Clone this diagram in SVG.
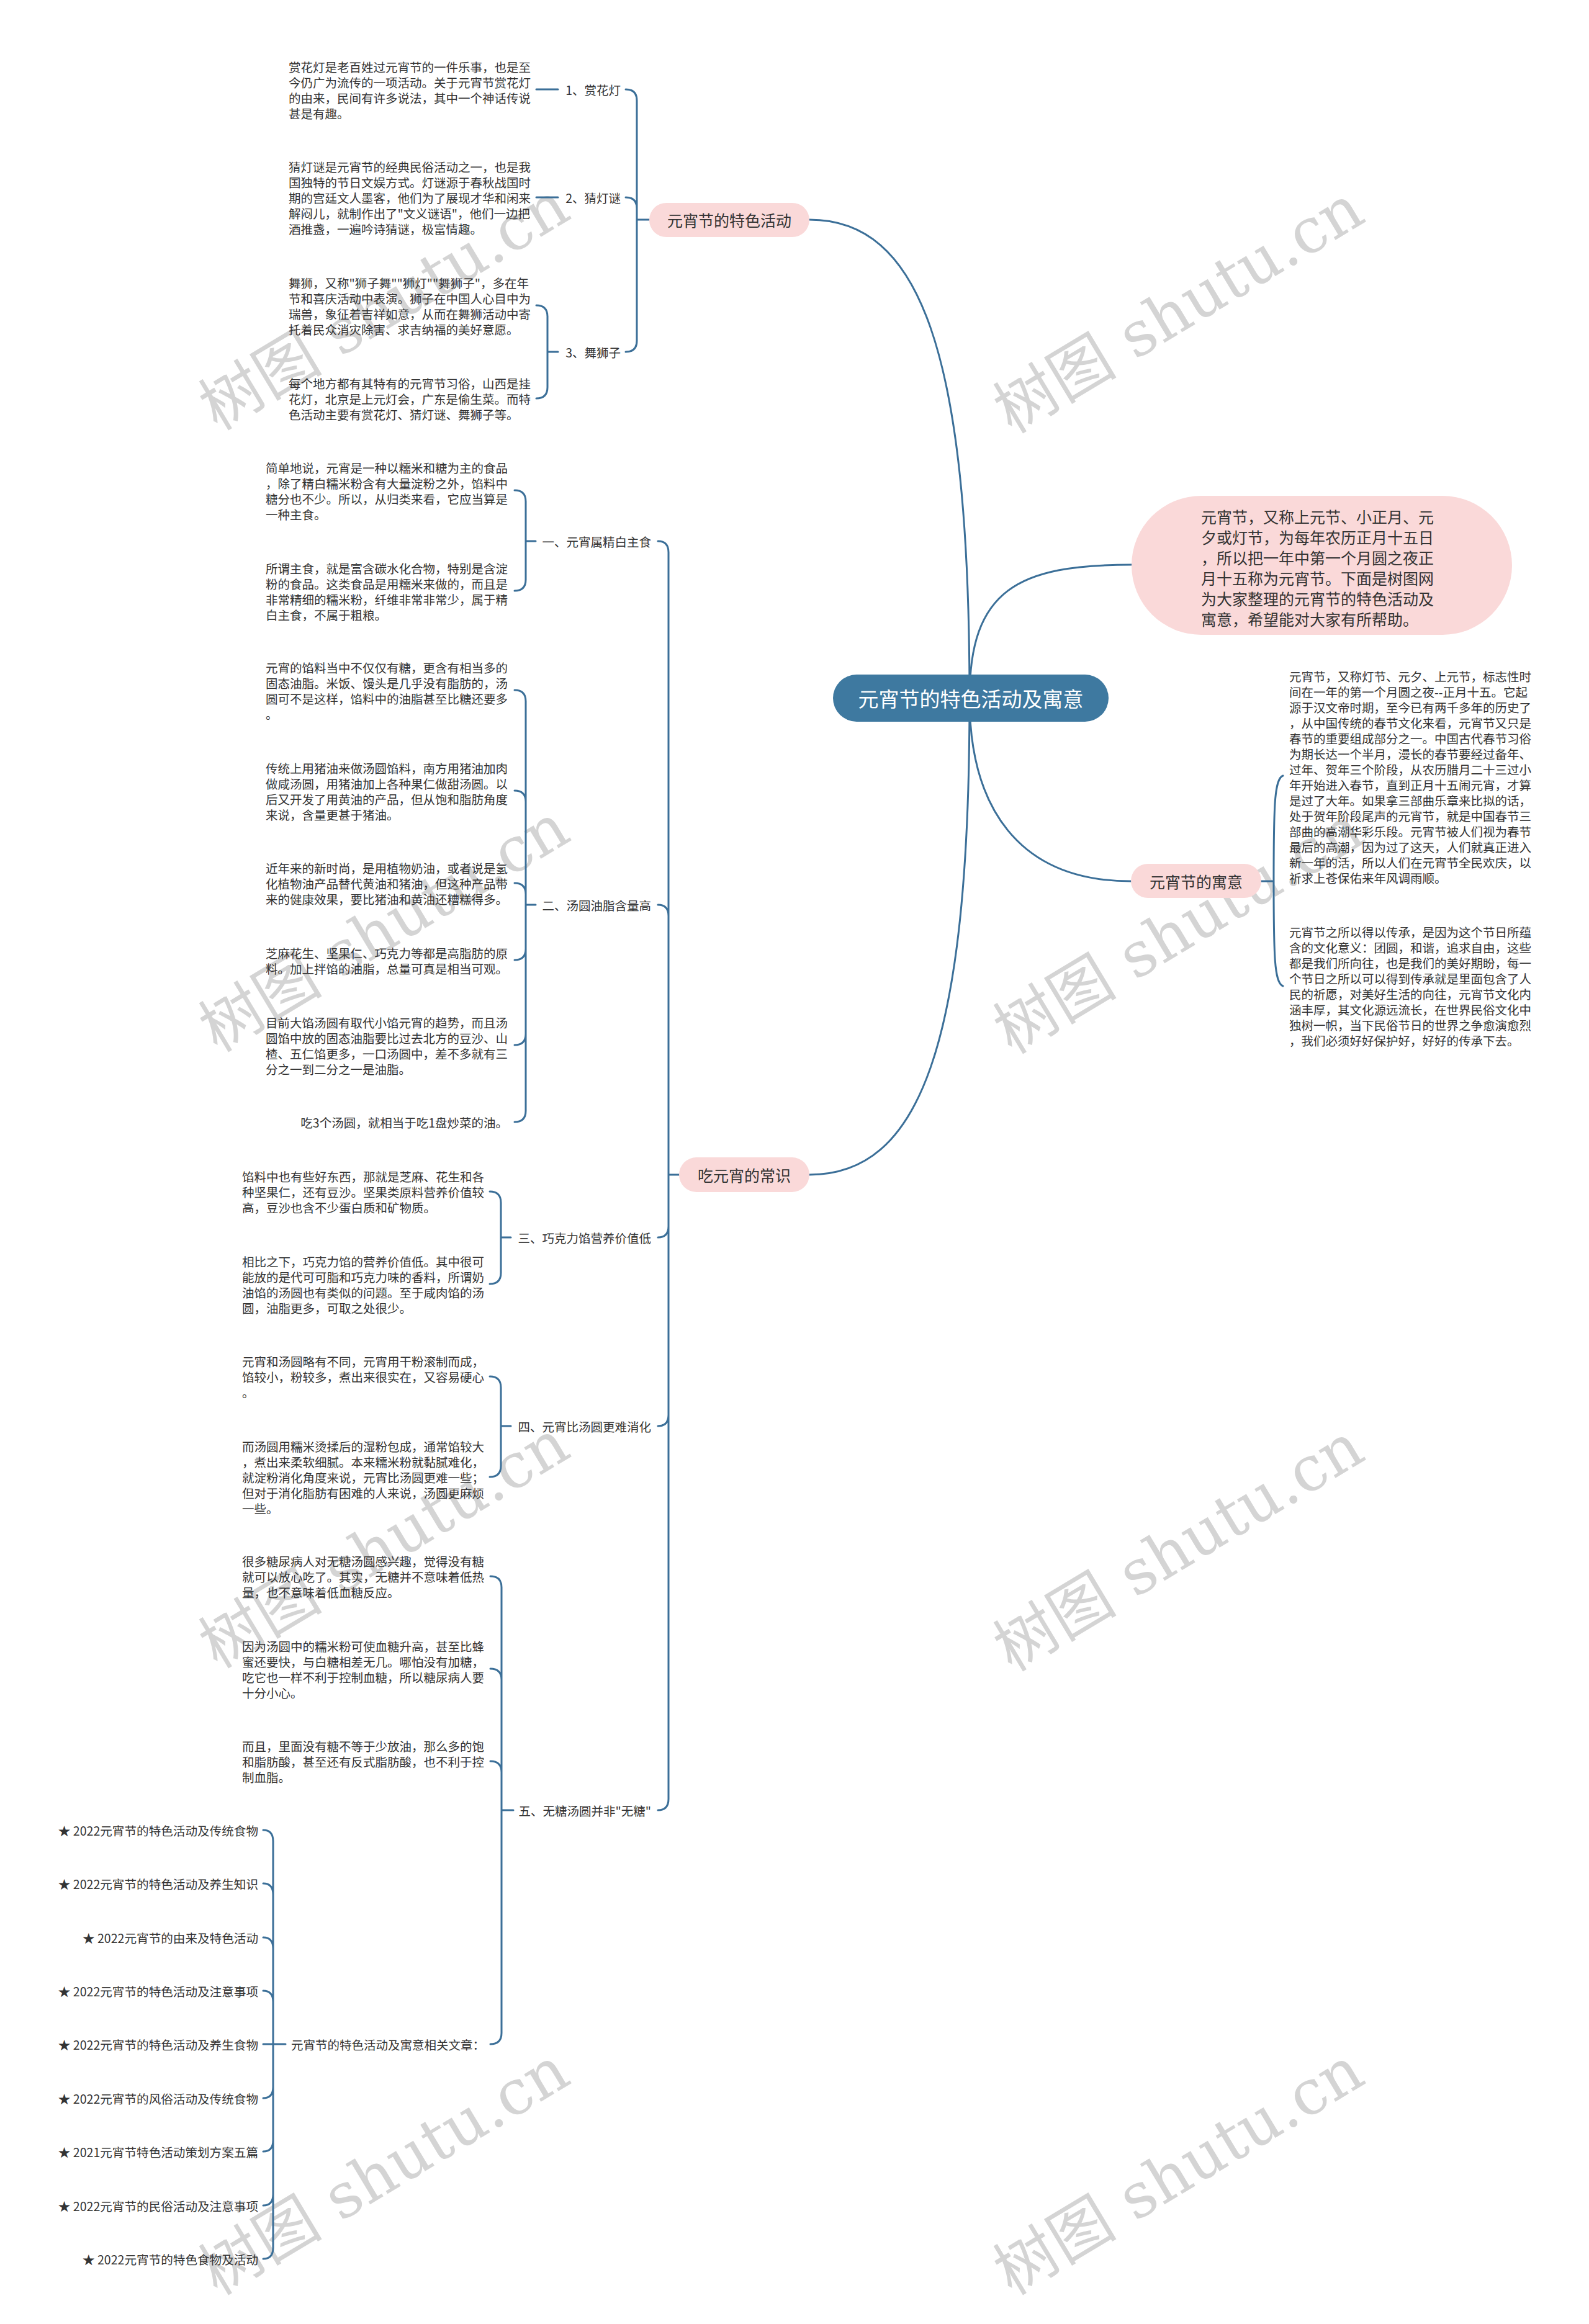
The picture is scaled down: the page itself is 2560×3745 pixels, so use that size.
<svg xmlns="http://www.w3.org/2000/svg" width="2560" height="3745" viewBox="0 0 2560 3745">
<style>
text{font-family:"Noto Sans CJK SC","Liberation Sans",sans-serif;dominant-baseline:central;fill:#333}
.p{font-size:19.5px}
.e{text-anchor:end}
.li{font-size:19.6px;text-anchor:end}
.n1{font-size:25px;text-anchor:middle}
.pill{fill:#fad9d9}
.c{fill:none;stroke:#3b6f98;stroke-width:3;stroke-linecap:round}
.wm{font-family:"DejaVu Serif","Noto Sans CJK SC",serif;font-size:100px;fill:#d4d4d4;dominant-baseline:alphabetic}
</style>
<rect width="2560" height="3745" fill="#ffffff"/>
<g id="watermarks">
<text class="wm" x="350" y="695" transform="rotate(-31 350 695)">树图 shutu.cn</text>
<text class="wm" x="1630" y="700" transform="rotate(-31 1630 700)">树图 shutu.cn</text>
<text class="wm" x="350" y="1697" transform="rotate(-31 350 1697)">树图 shutu.cn</text>
<text class="wm" x="1630" y="1700" transform="rotate(-31 1630 1700)">树图 shutu.cn</text>
<text class="wm" x="350" y="2690" transform="rotate(-31 350 2690)">树图 shutu.cn</text>
<text class="wm" x="1630" y="2695" transform="rotate(-31 1630 2695)">树图 shutu.cn</text>
<text class="wm" x="350" y="3700" transform="rotate(-31 350 3700)">树图 shutu.cn</text>
<text class="wm" x="1630" y="3700" transform="rotate(-31 1630 3700)">树图 shutu.cn</text>
</g>
<g id="connectors">
<path class="c" d="M1304,354 C1480,354 1562,560 1562,1125"/>
<path class="c" d="M1304,1893 C1480,1893 1562,1690 1562,1125"/>
<path class="c" d="M1562,1125 C1562,950 1640,910 1823,910"/>
<path class="c" d="M1562,1125 C1562,1300 1640,1420 1822,1420"/>
<path class="c" d="M2032,1420 L2052,1420 M2067,1250 C2053,1255 2052,1300 2052,1420 C2052,1540 2053,1584 2067,1589"/>
<path class="c" d="M1046,354 L1026,354 M1026,354 L1026,162 Q1026,144 1008,144 M1026,354 L1026,336 Q1026,318 1008,318 M1026,354 L1026,549 Q1026,567 1008,567"/>
<path class="c" d="M864,144 L899,144 M864,318 L899,318 M899,567 L882,567 M882,567 L882,510 Q882,492 864,492 M882,567 L882,624 Q882,642 864,642"/>
<path class="c" d="M1094,1893 L1077,1893 M1077,1893 L1077,890 Q1077,872 1060,872 M1077,1893 L1077,1476 Q1077,1458 1060,1458 M1077,1893 L1077,1976 Q1077,1994 1060,1994 M1077,1893 L1077,2280 Q1077,2298 1060,2298 M1077,1893 L1077,2899 Q1077,2917 1060,2917"/>
<path class="c" d="M863,872 L847,872 M847,872 L847,808 Q847,790 829,790 M847,872 L847,934 Q847,952 829,952"/>
<path class="c" d="M863,1458 L847,1458 M847,1458 L847,1130 Q847,1112 829,1112 M847,1458 L847,1292 Q847,1274 829,1274 M847,1458 L847,1441 Q847,1423 829,1423 M847,1458 L847,1529 Q847,1547 829,1547 M847,1458 L847,1666 Q847,1684 829,1684 M847,1458 L847,1790 Q847,1808 829,1808"/>
<path class="c" d="M823,1994 L807,1994 M807,1994 L807,1938 Q807,1920 789,1920 M807,1994 L807,2051 Q807,2069 789,2069"/>
<path class="c" d="M823,2298 L807,2298 M807,2298 L807,2236 Q807,2218 789,2218 M807,2298 L807,2362 Q807,2380 789,2380"/>
<path class="c" d="M827,2917 L808,2917 M808,2917 L808,2558 Q808,2540 790,2540 M808,2917 L808,2707 Q808,2689 790,2689 M808,2917 L808,2856 Q808,2838 790,2838 M808,2917 L808,3276 Q808,3294 790,3294"/>
<path class="c" d="M460,3294 L424,3294 M440,3294 L440,2967 Q440,2949 424,2949 M440,3294 L440,3053 Q440,3035 424,3035 M440,3294 L440,3140 Q440,3122 424,3122 M440,3294 L440,3226 Q440,3208 424,3208 M440,3294 L440,3363 Q440,3381 424,3381 M440,3294 L440,3449 Q440,3467 424,3467 M440,3294 L440,3536 Q440,3554 424,3554 M440,3294 L440,3622 Q440,3640 424,3640"/>
</g>
<g id="center">
<rect x="1342" y="1087" width="444" height="76" rx="38" fill="#3e79a0"/>
<text x="1564" y="1125" style="font-size:33px;text-anchor:middle;fill:#ffffff">元宵节的特色活动及寓意</text>
</g>
<g id="n-tese">
<rect class="pill" x="1046" y="327" width="258" height="55" rx="27.5"/>
<text class="n1" x="1175" y="354">元宵节的特色活动</text>
</g>
<g id="n-changshi">
<rect class="pill" x="1094" y="1865" width="210" height="56" rx="28"/>
<text class="n1" x="1199" y="1893">吃元宵的常识</text>
</g>
<g id="n-intro">
<rect class="pill" x="1823" y="799" width="613" height="224" rx="112"/>
<text style="font-size:25px">
<tspan x="1935" y="832">元宵节，又称上元节、小正月、元</tspan>
<tspan x="1935" y="865">夕或灯节，为每年农历正月十五日</tspan>
<tspan x="1935" y="898">，所以把一年中第一个月圆之夜正</tspan>
<tspan x="1935" y="931">月十五称为元宵节。下面是树图网</tspan>
<tspan x="1935" y="964">为大家整理的元宵节的特色活动及</tspan>
<tspan x="1935" y="997">寓意，希望能对大家有所帮助。</tspan>
</text>
</g>
<g id="n-yuyi">
<rect class="pill" x="1822" y="1392" width="210" height="55" rx="27.5"/>
<text class="n1" x="1927" y="1420">元宵节的寓意</text>
</g>
<g id="n-yuyi-p1">
<text class="p">
<tspan x="2077" y="1089">元宵节，又称灯节、元夕、上元节，标志性时</tspan>
<tspan x="2077" y="1114">间在一年的第一个月圆之夜--正月十五。它起</tspan>
<tspan x="2077" y="1139">源于汉文帝时期，至今已有两千多年的历史了</tspan>
<tspan x="2077" y="1164">，从中国传统的春节文化来看，元宵节又只是</tspan>
<tspan x="2077" y="1189">春节的重要组成部分之一。中国古代春节习俗</tspan>
<tspan x="2077" y="1214">为期长达一个半月，漫长的春节要经过备年、</tspan>
<tspan x="2077" y="1239">过年、贺年三个阶段，从农历腊月二十三过小</tspan>
<tspan x="2077" y="1264">年开始进入春节，直到正月十五闹元宵，才算</tspan>
<tspan x="2077" y="1289">是过了大年。如果拿三部曲乐章来比拟的话，</tspan>
<tspan x="2077" y="1314">处于贺年阶段尾声的元宵节，就是中国春节三</tspan>
<tspan x="2077" y="1339">部曲的高潮华彩乐段。元宵节被人们视为春节</tspan>
<tspan x="2077" y="1364">最后的高潮，因为过了这天，人们就真正进入</tspan>
<tspan x="2077" y="1389">新一年的活，所以人们在元宵节全民欢庆，以</tspan>
<tspan x="2077" y="1414">祈求上苍保佑来年风调雨顺。</tspan>
</text>
</g>
<g id="n-yuyi-p2">
<text class="p">
<tspan x="2077" y="1501">元宵节之所以得以传承，是因为这个节日所蕴</tspan>
<tspan x="2077" y="1526">含的文化意义：团圆，和谐，追求自由，这些</tspan>
<tspan x="2077" y="1551">都是我们所向往，也是我们的美好期盼，每一</tspan>
<tspan x="2077" y="1576">个节日之所以可以得到传承就是里面包含了人</tspan>
<tspan x="2077" y="1601">民的祈愿，对美好生活的向往，元宵节文化内</tspan>
<tspan x="2077" y="1626">涵丰厚，其文化源远流长，在世界民俗文化中</tspan>
<tspan x="2077" y="1651">独树一帜，当下民俗节日的世界之争愈演愈烈</tspan>
<tspan x="2077" y="1676">，我们必须好好保护好，好好的传承下去。</tspan>
</text>
</g>
<g id="n-a1">
<text class="p e" x="1000" y="144">1、赏花灯</text>
<text class="p">
<tspan x="465" y="107">赏花灯是老百姓过元宵节的一件乐事，也是至</tspan>
<tspan x="465" y="132">今仍广为流传的一项活动。关于元宵节赏花灯</tspan>
<tspan x="465" y="157">的由来，民间有许多说法，其中一个神话传说</tspan>
<tspan x="465" y="182">甚是有趣。</tspan>
</text>
</g>
<g id="n-a2">
<text class="p e" x="1000" y="318">2、猜灯谜</text>
<text class="p">
<tspan x="465" y="268">猜灯谜是元宵节的经典民俗活动之一，也是我</tspan>
<tspan x="465" y="293">国独特的节日文娱方式。灯谜源于春秋战国时</tspan>
<tspan x="465" y="318">期的宫廷文人墨客，他们为了展现才华和闲来</tspan>
<tspan x="465" y="343">解闷儿，就制作出了"文义谜语"，他们一边把</tspan>
<tspan x="465" y="368">酒推盏，一遍吟诗猜谜，极富情趣。</tspan>
</text>
</g>
<g id="n-a3">
<text class="p e" x="1000" y="567">3、舞狮子</text>
<text class="p">
<tspan x="465" y="455">舞狮，又称"狮子舞""狮灯""舞狮子"，多在年</tspan>
<tspan x="465" y="480">节和喜庆活动中表演。狮子在中国人心目中为</tspan>
<tspan x="465" y="505">瑞兽，象征着吉祥如意，从而在舞狮活动中寄</tspan>
<tspan x="465" y="530">托着民众消灾除害、求吉纳福的美好意愿。</tspan>
</text>
<text class="p">
<tspan x="465" y="617">每个地方都有其特有的元宵节习俗，山西是挂</tspan>
<tspan x="465" y="642">花灯，北京是上元灯会，广东是偷生菜。而特</tspan>
<tspan x="465" y="667">色活动主要有赏花灯、猜灯谜、舞狮子等。</tspan>
</text>
</g>
<g id="n-b1">
<text class="p e" x="1049" y="872">一、元宵属精白主食</text>
<text class="p">
<tspan x="428" y="753">简单地说，元宵是一种以糯米和糖为主的食品</tspan>
<tspan x="428" y="778">，除了精白糯米粉含有大量淀粉之外，馅料中</tspan>
<tspan x="428" y="803">糖分也不少。所以，从归类来看，它应当算是</tspan>
<tspan x="428" y="828">一种主食。</tspan>
</text>
<text class="p">
<tspan x="428" y="915">所谓主食，就是富含碳水化合物，特别是含淀</tspan>
<tspan x="428" y="940">粉的食品。这类食品是用糯米来做的，而且是</tspan>
<tspan x="428" y="965">非常精细的糯米粉，纤维非常非常少，属于精</tspan>
<tspan x="428" y="990">白主食，不属于粗粮。</tspan>
</text>
</g>
<g id="n-b2">
<text class="p e" x="1049" y="1458">二、汤圆油脂含量高</text>
<text class="p">
<tspan x="428" y="1075">元宵的馅料当中不仅仅有糖，更含有相当多的</tspan>
<tspan x="428" y="1100">固态油脂。米饭、馒头是几乎没有脂肪的，汤</tspan>
<tspan x="428" y="1125">圆可不是这样，馅料中的油脂甚至比糖还要多</tspan>
<tspan x="428" y="1150">。</tspan>
</text>
<text class="p">
<tspan x="428" y="1237">传统上用猪油来做汤圆馅料，南方用猪油加肉</tspan>
<tspan x="428" y="1262">做咸汤圆，用猪油加上各种果仁做甜汤圆。以</tspan>
<tspan x="428" y="1287">后又开发了用黄油的产品，但从饱和脂肪角度</tspan>
<tspan x="428" y="1312">来说，含量更甚于猪油。</tspan>
</text>
<text class="p">
<tspan x="428" y="1398">近年来的新时尚，是用植物奶油，或者说是氢</tspan>
<tspan x="428" y="1423">化植物油产品替代黄油和猪油，但这种产品带</tspan>
<tspan x="428" y="1448">来的健康效果，要比猪油和黄油还糟糕得多。</tspan>
</text>
<text class="p">
<tspan x="428" y="1535">芝麻花生、坚果仁、巧克力等都是高脂肪的原</tspan>
<tspan x="428" y="1560">料。加上拌馅的油脂，总量可真是相当可观。</tspan>
</text>
<text class="p">
<tspan x="428" y="1647">目前大馅汤圆有取代小馅元宵的趋势，而且汤</tspan>
<tspan x="428" y="1672">圆馅中放的固态油脂要比过去北方的豆沙、山</tspan>
<tspan x="428" y="1697">楂、五仁馅更多，一口汤圆中，差不多就有三</tspan>
<tspan x="428" y="1722">分之一到二分之一是油脂。</tspan>
</text>
<text class="p e" x="818" y="1808">吃3个汤圆，就相当于吃1盘炒菜的油。</text>
</g>
<g id="n-b3">
<text class="p e" x="1049" y="1994">三、巧克力馅营养价值低</text>
<text class="p">
<tspan x="390" y="1895">馅料中也有些好东西，那就是芝麻、花生和各</tspan>
<tspan x="390" y="1920">种坚果仁，还有豆沙。坚果类原料营养价值较</tspan>
<tspan x="390" y="1945">高，豆沙也含不少蛋白质和矿物质。</tspan>
</text>
<text class="p">
<tspan x="390" y="2032">相比之下，巧克力馅的营养价值低。其中很可</tspan>
<tspan x="390" y="2057">能放的是代可可脂和巧克力味的香料，所谓奶</tspan>
<tspan x="390" y="2082">油馅的汤圆也有类似的问题。至于咸肉馅的汤</tspan>
<tspan x="390" y="2107">圆，油脂更多，可取之处很少。</tspan>
</text>
</g>
<g id="n-b4">
<text class="p e" x="1049" y="2298">四、元宵比汤圆更难消化</text>
<text class="p">
<tspan x="390" y="2193">元宵和汤圆略有不同，元宵用干粉滚制而成，</tspan>
<tspan x="390" y="2218">馅较小，粉较多，煮出来很实在，又容易硬心</tspan>
<tspan x="390" y="2243">。</tspan>
</text>
<text class="p">
<tspan x="390" y="2330">而汤圆用糯米烫揉后的湿粉包成，通常馅较大</tspan>
<tspan x="390" y="2355">，煮出来柔软细腻。本来糯米粉就黏腻难化，</tspan>
<tspan x="390" y="2380">就淀粉消化角度来说，元宵比汤圆更难一些；</tspan>
<tspan x="390" y="2405">但对于消化脂肪有困难的人来说，汤圆更麻烦</tspan>
<tspan x="390" y="2430">一些。</tspan>
</text>
</g>
<g id="n-b5">
<text class="p e" x="1049" y="2917">五、无糖汤圆并非"无糖"</text>
<text class="p">
<tspan x="390" y="2515">很多糖尿病人对无糖汤圆感兴趣，觉得没有糖</tspan>
<tspan x="390" y="2540">就可以放心吃了。其实，无糖并不意味着低热</tspan>
<tspan x="390" y="2565">量，也不意味着低血糖反应。</tspan>
</text>
<text class="p">
<tspan x="390" y="2652">因为汤圆中的糯米粉可使血糖升高，甚至比蜂</tspan>
<tspan x="390" y="2677">蜜还要快，与白糖相差无几。哪怕没有加糖，</tspan>
<tspan x="390" y="2702">吃它也一样不利于控制血糖，所以糖尿病人要</tspan>
<tspan x="390" y="2727">十分小心。</tspan>
</text>
<text class="p">
<tspan x="390" y="2813">而且，里面没有糖不等于少放油，那么多的饱</tspan>
<tspan x="390" y="2838">和脂肪酸，甚至还有反式脂肪酸，也不利于控</tspan>
<tspan x="390" y="2863">制血脂。</tspan>
</text>
</g>
<g id="n-related">
<text class="p e" x="781" y="3294">元宵节的特色活动及寓意相关文章：</text>
<text class="li" x="416" y="2949">★ 2022元宵节的特色活动及传统食物</text>
<text class="li" x="416" y="3035">★ 2022元宵节的特色活动及养生知识</text>
<text class="li" x="416" y="3122">★ 2022元宵节的由来及特色活动</text>
<text class="li" x="416" y="3208">★ 2022元宵节的特色活动及注意事项</text>
<text class="li" x="416" y="3294">★ 2022元宵节的特色活动及养生食物</text>
<text class="li" x="416" y="3381">★ 2022元宵节的风俗活动及传统食物</text>
<text class="li" x="416" y="3467">★ 2021元宵节特色活动策划方案五篇</text>
<text class="li" x="416" y="3554">★ 2022元宵节的民俗活动及注意事项</text>
<text class="li" x="416" y="3640">★ 2022元宵节的特色食物及活动</text>
</g>
</svg>
